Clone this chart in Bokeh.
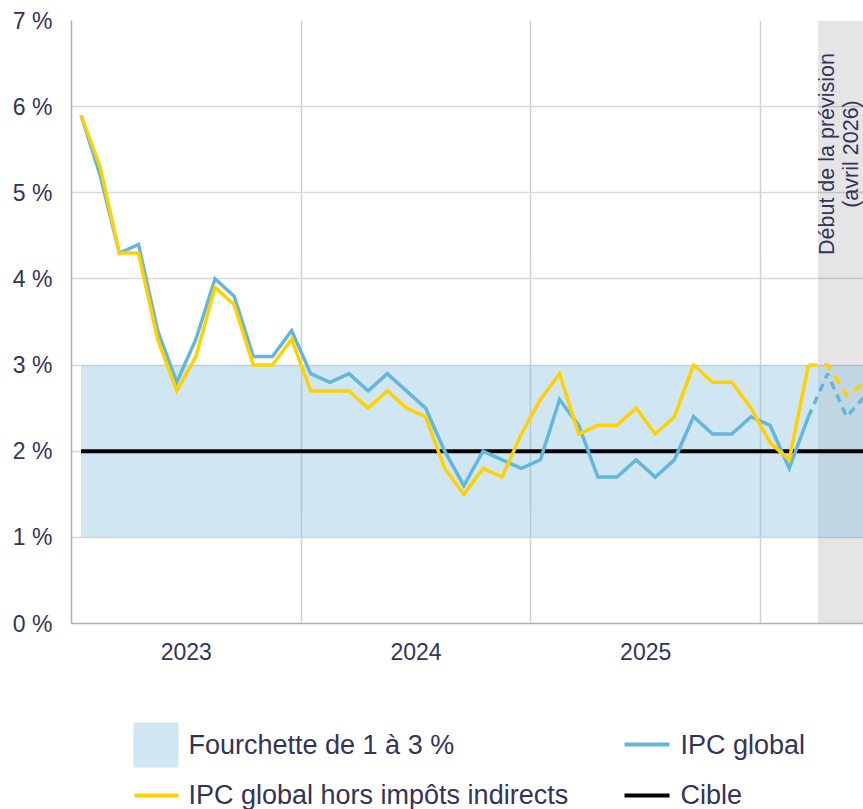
import numpy as np
from bokeh.plotting import figure
from bokeh.models import Range1d, FixedTicker
from bokeh.layouts import column
from bokeh.embed import file_html
from bokeh.resources import INLINE
from bokeh.core.properties import value

# ---------------- data ----------------
years = ["2023", "2024", "2025"]
# monthly values, Jan 2023 -> Mar 2026
ipc_global = [5.9, 5.2, 4.3, 4.4, 3.4, 2.8, 3.3, 4.0, 3.8, 3.1, 3.1, 3.4,
              2.9, 2.8, 2.9, 2.7, 2.9, 2.7, 2.5, 2.0, 1.6, 2.0, 1.9, 1.8,
              1.9, 2.6, 2.3, 1.7, 1.7, 1.9, 1.7, 1.9, 2.4, 2.2, 2.2, 2.4,
              2.3, 1.8, 2.4]
ipc_hors_impots = [5.9, 5.3, 4.3, 4.3, 3.3, 2.7, 3.1, 3.9, 3.7, 3.0, 3.0, 3.3,
                   2.7, 2.7, 2.7, 2.5, 2.7, 2.5, 2.4, 1.8, 1.5, 1.8, 1.7, 2.2,
                   2.6, 2.9, 2.2, 2.3, 2.3, 2.5, 2.2, 2.4, 3.0, 2.8, 2.8, 2.5,
                   2.1, 1.9, 3.0]
# forecast, Mar 2026 -> Jun 2026 (starts from last observed month)
ipc_global_prev = [2.4, 2.9, 2.4, 2.65]
ipc_hors_impots_prev = [3.0, 3.0, 2.65, 2.8]
fourchette_bas = 1
fourchette_haut = 3
cible = 2
y_ticks = [0, 1, 2, 3, 4, 5, 6, 7]
y_labels = [f"{t} %" for t in y_ticks]
legend_labels = ["Fourchette de 1 à 3 %", "IPC global",
                 "IPC global hors impôts indirects", "Cible"]
prevision_label = "Début de la prévision\n(avril 2026)"

# ---------------- styles ----------------
BLUE = "#64b6dd"
YELLOW = "#ffd100"
BAND = "#85bedd"
BAND_ALPHA = 0.385
TEXT = "#34345a"
FONT = "Liberation Sans"

n_obs = len(ipc_global)
x_obs = np.arange(n_obs)
x_prev = np.arange(n_obs - 1, n_obs - 1 + len(ipc_global_prev))
prev_start = n_obs - 0.5  # start of April 2026
x_end = 40.88
last_x = x_prev[-1] + 1

p = figure(width=863, height=700, x_range=Range1d(-0.5, x_end), y_range=Range1d(0, 7),
           output_backend="svg", toolbar_location=None,
           min_border_left=71, min_border_right=0, min_border_top=20, min_border_bottom=77)
p.outline_line_color = None
p.background_fill_color = "white"

# grids
p.ygrid.ticker = FixedTicker(ticks=y_ticks)
p.ygrid.grid_line_color = "#d9d9d9"
p.ygrid.grid_line_width = 1.5
p.xgrid.ticker = FixedTicker(ticks=[12 * i + 11.5 for i in range(len(years))])
p.xgrid.grid_line_color = "#d0d0d0"
p.xgrid.grid_line_width = 1.5

# axes
p.xaxis.ticker = FixedTicker(ticks=[12 * i + 5.5 for i in range(len(years))])
p.xaxis.major_label_overrides = {12 * i + 5.5: y for i, y in enumerate(years)}
p.yaxis.ticker = FixedTicker(ticks=y_ticks)
p.yaxis.major_label_overrides = {t: l for t, l in zip(y_ticks, y_labels)}
for ax in (p.xaxis[0], p.yaxis[0]):
    ax.axis_line_color = "#b0b0b0"
    ax.axis_line_width = 1.5
    ax.major_tick_line_color = None
    ax.minor_tick_line_color = None
    ax.major_tick_out = 0
    ax.major_tick_in = 0
    ax.minor_tick_out = 0
    ax.major_label_text_font = FONT
    ax.major_label_text_font_size = "23px"
    ax.major_label_text_color = TEXT
p.yaxis.major_label_standoff = 19
p.xaxis.major_label_standoff = 19

# forecast shading
p.quad(left=[prev_start], right=[last_x], bottom=[0], top=[7],
       fill_color="black", fill_alpha=0.1, line_color=None)
# target band
p.quad(left=[0], right=[last_x], bottom=[fourchette_bas], top=[fourchette_haut],
       fill_color=BAND, fill_alpha=BAND_ALPHA, line_color=None)
# target line
p.line([0, last_x], [cible, cible], line_color="black", line_width=4)

# series
p.line(x_obs, ipc_global, line_color=BLUE, line_width=3.5, line_join="miter")
p.line(x_prev, ipc_global_prev, line_color=BLUE, line_width=3.5, line_dash="8 6")
p.line(x_obs, ipc_hors_impots, line_color=YELLOW, line_width=3.5, line_join="miter")
p.line(x_prev, ipc_hors_impots_prev, line_color=YELLOW, line_width=3.5, line_dash="9 7")

# forecast annotation
p.text(x=[39.6], y=[5.45], text=[prevision_label], angle=np.pi / 2,
       text_align="center", text_baseline="middle", text_font=value(FONT),
       text_font_size="21.5px", text_color=TEXT, text_line_height=1.0)

# ---------------- legend (own figure; its frame is aligned with the main frame,
# which spans page x 71..863, so page pixel coordinates are used) ----------------
lg = figure(width=863, height=109, x_range=Range1d(71, 863), y_range=Range1d(809, 700),
            output_backend="svg", toolbar_location=None, x_axis_type=None, y_axis_type=None,
            min_border_left=71, min_border_right=0, min_border_top=0, min_border_bottom=0)
lg.outline_line_color = None
lg.grid.visible = False

lg.quad(left=[133], right=[178], top=[722], bottom=[767],
        fill_color=BAND, fill_alpha=BAND_ALPHA, line_color=None)
lg.line([624, 669], [744, 744], line_color=BLUE, line_width=4)
lg.line([134, 178], [795, 795], line_color=YELLOW, line_width=4)
lg.line([624, 669], [795, 795], line_color="black", line_width=4)
lg.text(x=[188, 680, 188, 680], y=[744, 744, 794, 794], text=legend_labels,
        text_align="left", text_baseline="middle", text_font=value(FONT),
        text_font_size="27px", text_color=TEXT)

layout = column(p, lg, spacing=0)
open("out.html", "w").write(file_html(layout, INLINE))
